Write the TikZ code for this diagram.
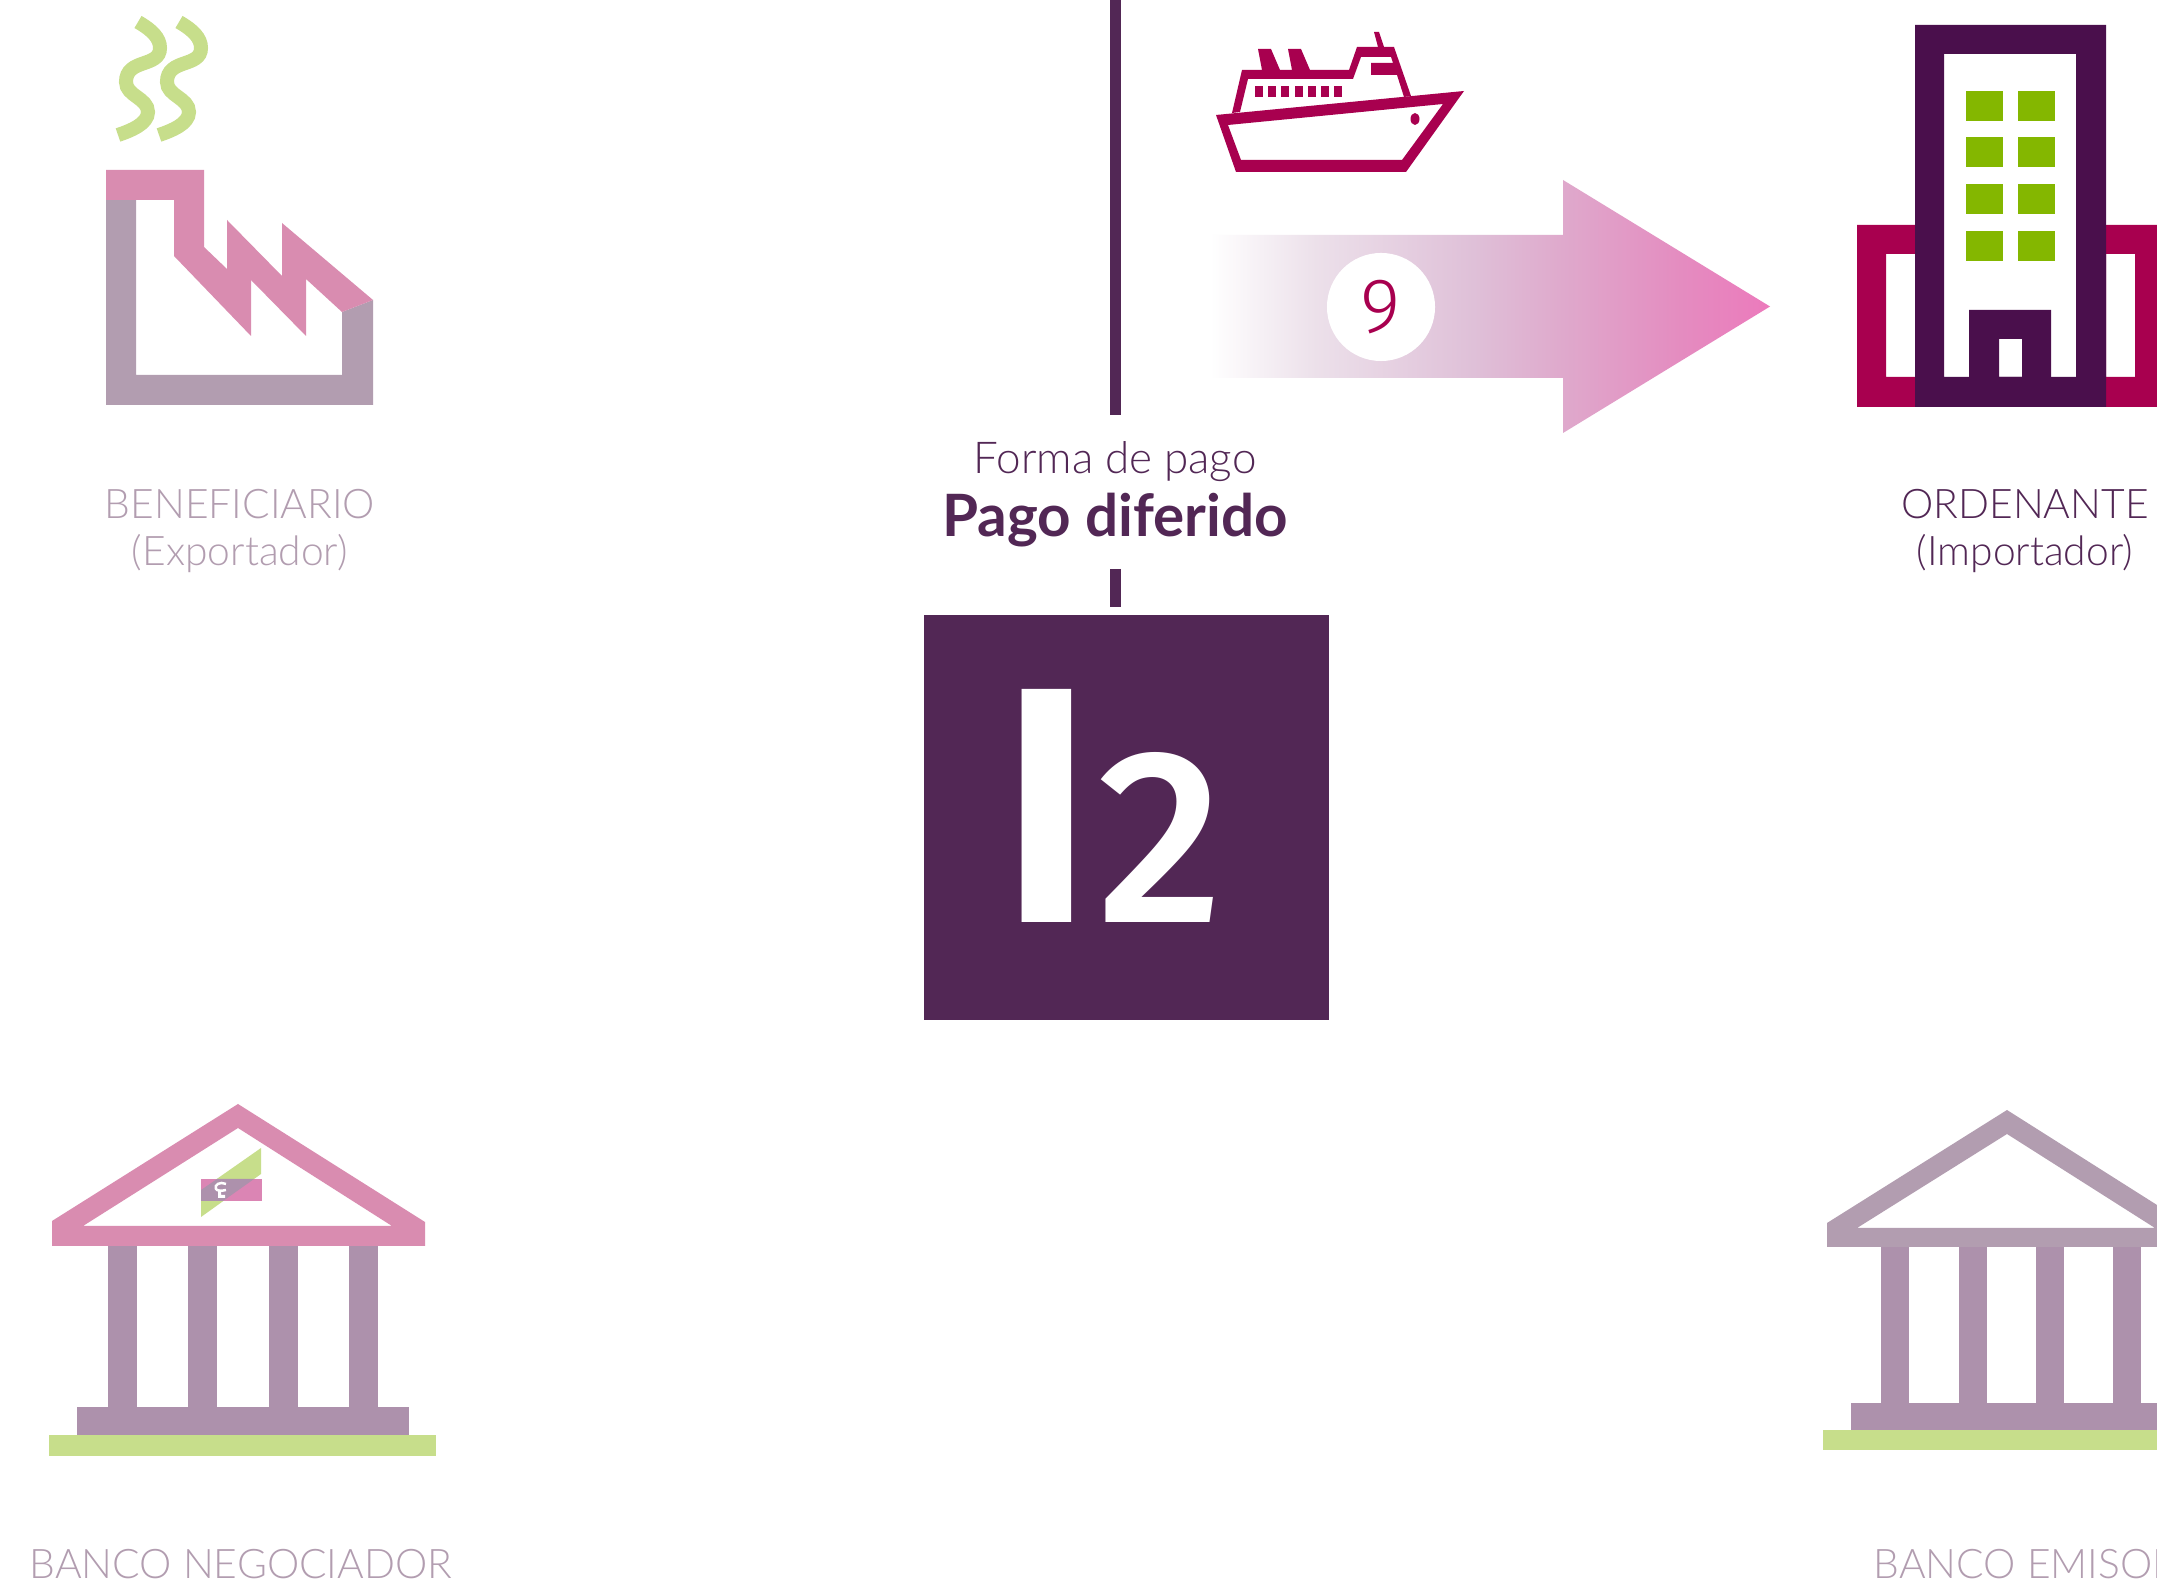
\documentclass[tikz,border=0pt]{standalone}
\usepackage{fontspec}
\setmainfont{Lato Light}
\newfontfamily\boldfont{Lato Bold}
\newfontfamily\medfont{Fira Sans Medium}
\newfontfamily\semifont{Fira Sans SemiBold}
\newfontfamily\ninefont{Fira Sans Light}
\definecolor{darkplum}{HTML}{522755}
\definecolor{deepplum}{HTML}{4A0F4C}
\definecolor{wine}{HTML}{A8004F}
\definecolor{softpink}{HTML}{D98CB0}
\definecolor{softgrey}{HTML}{B29DB0}
\definecolor{colgrey}{HTML}{AD91AC}
\definecolor{softgreen}{HTML}{C7DE8B}
\definecolor{leaf}{HTML}{84B700}
\definecolor{fadea}{HTML}{ECE0EA}
\definecolor{fadeb}{HTML}{DFC0D8}
\definecolor{fadec}{HTML}{DFA9CC}
\definecolor{faded}{HTML}{E48CC0}
\definecolor{fadee}{HTML}{EC7ABC}
\pgfdeclarehorizontalshading{arrowfade}{100bp}{color(0bp)=(white); color(25bp)=(white); color(34.5bp)=(fadea); color(48.5bp)=(fadeb); color(56.5bp)=(fadec); color(67bp)=(faded); color(75bp)=(fadee); color(100bp)=(fadee)}
\tikzset{
  lbl/.style={font=\fontsize{11.6pt}{13.37pt}\selectfont, text=softgrey, inner sep=0pt, align=center},
  smoke/.style={draw=softgreen, line width=0.14cm},
  column/.style={fill=colgrey}
}
\begin{document}
\begin{tikzpicture}[x=0.01cm, y=-0.01cm] % 1 unit = 1 pixel of the reference
  \clip (0,0) rectangle (2157,1589);
  \fill[white] (0,0) rectangle (2157,1589);

  % factory
  \foreach \dx in {0,41} {
    \draw[smoke, xshift=\dx*0.01cm] (138,22) .. controls (152,30) and (160,38) .. (160,48) .. controls (160,68) and (126,58) .. (126,82) .. controls (126,96) and (148,98) .. (148,112) .. controls (148,124) and (130,131) .. (118,135);
  }
  \fill[softgrey] (106,200)--(136,200)--(136,375)--(342,375)--(342,312)--(373,300)--(373,405)--(106,405)--cycle;
  \fill[softpink] (106,170)--(204,170)--(204,247)--(227,269)--(227,220)--(282,276)--(282,223)--(373,300)--(342,312)--(306,279)--(306,336)--(251,280)--(251,336)--(174,256)--(174,200)--(106,200)--cycle;
  \node[lbl] (benef) at (240,531) {BENEFICIARIO\\(Exportador)};

  % ship
  \fill[wine, even odd rule] (1216,115)--(1464,91)--(1406,172)--(1236,172)--cycle (1228,125)--(1443,104)--(1402,160)--(1241,160)--cycle;
  \fill[wine, even odd rule] (1232,113)--(1242,70)--(1262,70)--(1258,49)--(1271,49)--(1280,70)--(1292,70)--(1288,49)--(1301,49)--(1310,70)--(1349,70)--(1357,47)--(1378,47)--(1374,32)--(1379,32)--(1384,47)--(1394,47)--(1411,96)--(1404,97)--(1397,75)--(1371,75)--(1371,63)--(1393,63)--(1391,57)--(1361,57)--(1353,79)--(1248,79)--(1240,112)--cycle;
  \foreach \wx in {1255,1268,1281,1295,1308,1321,1334}
    \fill[wine] (\wx,86) rectangle ++(8,11);
  \fill[wine] (1415,119) ellipse [x radius=4.5, y radius=6];

  % arrow
  \shade[shading=arrowfade] (1210,235)--(1563,235)--(1563,180)--(1770,306.5)--(1563,433)--(1563,378)--(1210,378)--cycle;
  \node[circle, fill=white, minimum size=1.08cm, inner sep=0pt, text=wine, font=\ninefont\fontsize{22pt}{22pt}\selectfont] (nine) at (1381,307) {9};

  % building
  \fill[wine, even odd rule] (1857,225) rectangle (1915,407) (1886,254) rectangle (1915,377);
  \fill[wine, even odd rule] (2106,225) rectangle (2165,407) (2106,254) rectangle (2135,377);
  \fill[deepplum, even odd rule] (1915,25) rectangle (2106,407) (1944,54) rectangle (2076,377);
  \fill[deepplum, even odd rule] (1969,310) rectangle (2051,377) (1999,339) rectangle (2022,377);
  \foreach \py in {91,137,184,231}
    \foreach \px in {1966,2018}
      \fill[leaf] (\px,\py) rectangle ++(37,30);
  \node[lbl, text=darkplum] (orden) at (2025,531) {ORDENANTE\\(Importador)};

  % centre
  \coordinate (linetop) at (1115,0);
  \coordinate (lineend) at (1115,415);
  \coordinate (stubtop) at (1115,569);
  \coordinate (stubend) at (1115,607);
  \draw[darkplum, line width=0.11cm] (linetop) -- (lineend);
  \draw[darkplum, line width=0.11cm] (stubtop) -- (stubend);
  \node[inner sep=0pt, text=darkplum, font=\fontsize{12.5pt}{14pt}\selectfont] (forma) at (1115,462) {Forma de pago};
  \node[inner sep=0pt, text=darkplum, font=\boldfont\fontsize{16.6pt}{20pt}\selectfont] (pago) at (1115,520) {Pago diferido};
  \node[fill=darkplum, minimum width=4.05cm, minimum height=4.05cm, inner sep=0pt] (levelbox) at (1126.5,817.5) {};
  \node[anchor=base west, inner sep=0pt, text=white, font=\semifont\fontsize{95.8pt}{96pt}\selectfont] (letter) at (997,923) {I};
  \node[anchor=base west, inner sep=0pt, text=white, font=\medfont\fontsize{70.6pt}{71pt}\selectfont] (digit) at (1097,923) {2};

  % left bank
  \fill[softpink, even odd rule] (238,1104)--(425,1222)--(425,1246)--(52,1246)--(52,1221)--cycle (238,1128)--(392,1226)--(83,1226)--cycle;
  \foreach \cx in {108,188,269,349}
    \fill[column] (\cx,1246) rectangle ++(29,161);
  \fill[colgrey] (77,1407) rectangle (409,1436);
  \fill[softgreen] (49,1435) rectangle (436,1456);
  \fill[softgreen] (201,1190)--(261,1148)--(261,1174)--(201,1217)--cycle;
  \fill[softpink!95!magenta] (201,1179) rectangle (262,1201);
  \fill[colgrey] (201,1190)--(217,1179)--(254,1179)--(223,1201)--(201,1201)--cycle;
  \draw[white, line width=0.025cm] (226,1184) .. controls (220,1181) and (214,1185) .. (216,1189) .. controls (217,1191) and (222,1191) .. (226,1190); % small key mark
  \fill[white] (218,1191) rectangle (221,1198) (218,1195) rectangle (225,1198);
  \node[lbl] (negoc) at (241,1564) {BANCO NEGOCIADOR};

  % right bank
  \fill[softgrey, even odd rule] (2007,1110)--(2187,1224)--(2187,1247)--(1827,1247)--(1827,1223)--cycle (2007,1134)--(2155,1228)--(1857,1228)--cycle;
  \foreach \cx in {1881,1959,2036,2113}
    \fill[column] (\cx,1247) rectangle ++(28,156);
  \fill[colgrey] (1851,1403) rectangle (2165,1431);
  \fill[softgreen] (1823,1430) rectangle (2165,1450);
  \node[lbl, anchor=west] (emisor) at (1873,1564) {BANCO EMISOR};
\end{tikzpicture}
\end{document}
